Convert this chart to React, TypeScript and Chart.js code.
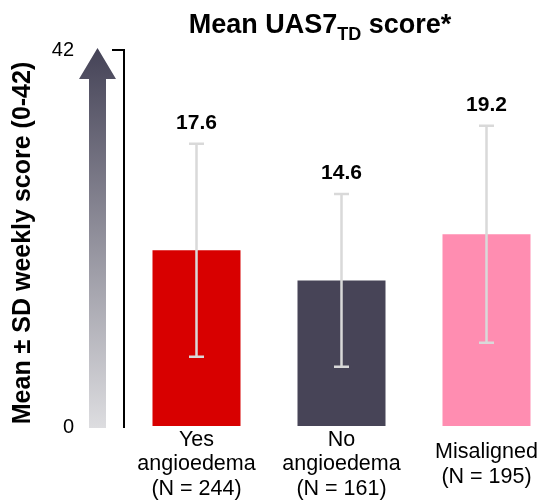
import React, { useEffect, useRef } from "react";
import { Chart, registerables } from "chart.js";

Chart.register(...registerables);

// ---- data ----
const CATEGORIES: string[][] = [
  ["Yes", "angioedema", "(N = 244)"],
  ["No", "angioedema", "(N = 161)"],
  ["Misaligned", "(N = 195)"],
];
const MEANS = [17.6, 14.6, 19.2];
const SDS = [10.6, 8.6, 10.8];
const VALUE_LABELS = ["17.6", "14.6", "19.2"];
const BAR_COLORS = ["#d80000", "#474457", "#ff8db1"];
// the reference's arrow axis is illustrative: its top is labelled 42,
// but bars are drawn on a scale whose top sits at about 37.55
const Y_MIN = 0;
const Y_MAX = 37.55;
const Y_TICK_LABELS = ["0", "42"];
const TITLE_MAIN = "Mean UAS7";
const TITLE_SUB = "TD";
const TITLE_END = " score*";
const Y_TITLE = "Mean \u00b1 SD weekly score (0-42)";

const FAMILY = "'Liberation Sans', Arial, Helvetica, sans-serif";

const decorPlugin = {
  id: "decor",
  beforeDatasetsDraw(chart: any) {
    const { ctx } = chart;
    const y = chart.scales.y;
    const top = y.getPixelForValue(Y_MAX) - 2;
    const bottom = y.getPixelForValue(Y_MIN) + 1;
    const cx = 97.5;
    const headHalf = 18.5;
    const shaftHalf = 8.5;
    const headH = 31;
    ctx.save();
    const g = ctx.createLinearGradient(0, top, 0, bottom);
    g.addColorStop(0, "#454357");
    g.addColorStop(1, "#dddde0");
    ctx.fillStyle = g;
    ctx.beginPath();
    ctx.moveTo(cx, top);
    ctx.lineTo(cx + headHalf, top + headH);
    ctx.lineTo(cx + shaftHalf, top + headH);
    ctx.lineTo(cx + shaftHalf, bottom);
    ctx.lineTo(cx - shaftHalf, bottom);
    ctx.lineTo(cx - shaftHalf, top + headH);
    ctx.lineTo(cx - headHalf, top + headH);
    ctx.closePath();
    ctx.fill();
    ctx.restore();
  },
  afterDatasetsDraw(chart: any) {
    const { ctx } = chart;
    const y = chart.scales.y;
    const meta = chart.getDatasetMeta(0);
    ctx.save();
    meta.data.forEach((bar: any, i: number) => {
      const x = bar.x;
      const hi = y.getPixelForValue(MEANS[i] + SDS[i]);
      const lo = y.getPixelForValue(MEANS[i] - SDS[i]);
      ctx.strokeStyle = "#d9d9d9";
      ctx.lineWidth = 2.5;
      ctx.beginPath();
      ctx.moveTo(x, hi);
      ctx.lineTo(x, lo);
      ctx.moveTo(x - 7.5, hi);
      ctx.lineTo(x + 7.5, hi);
      ctx.moveTo(x - 7.5, lo);
      ctx.lineTo(x + 7.5, lo);
      ctx.stroke();
      ctx.fillStyle = "#000";
      ctx.font = `bold 21px ${FAMILY}`;
      ctx.textAlign = "center";
      ctx.textBaseline = "middle";
      ctx.fillText(VALUE_LABELS[i], x, hi - 21);
    });
    ctx.restore();
  },
  afterDraw(chart: any) {
    const { ctx } = chart;
    ctx.save();
    // title with subscript
    const mainFont = `bold 27px ${FAMILY}`;
    const subFont = `bold 18px ${FAMILY}`;
    ctx.font = mainFont;
    const w1 = ctx.measureText(TITLE_MAIN).width;
    const w3 = ctx.measureText(TITLE_END).width;
    ctx.font = subFont;
    const w2 = ctx.measureText(TITLE_SUB).width;
    const total = w1 + w2 + w3;
    let x = 320 - total / 2;
    const base = 33;
    ctx.fillStyle = "#000";
    ctx.textAlign = "left";
    ctx.textBaseline = "alphabetic";
    ctx.font = mainFont;
    ctx.fillText(TITLE_MAIN, x, base);
    x += w1;
    ctx.font = subFont;
    ctx.fillText(TITLE_SUB, x, base + 7);
    x += w2;
    ctx.font = mainFont;
    ctx.fillText(TITLE_END, x, base);
    // y title
    ctx.translate(23, 243);
    ctx.rotate(-Math.PI / 2);
    ctx.font = `bold 25px ${FAMILY}`;
    ctx.textAlign = "center";
    ctx.textBaseline = "middle";
    ctx.fillText(Y_TITLE, 0, 0);
    ctx.restore();
  },
};

export default function App() {
  const ref = useRef<HTMLCanvasElement | null>(null);
  useEffect(() => {
    if (!ref.current) return;
    Chart.defaults.font.family = FAMILY;
    const chart = new Chart(ref.current, {
      type: "bar",
      data: {
        labels: CATEGORIES,
        datasets: [
          {
            data: MEANS,
            backgroundColor: BAR_COLORS,
            borderWidth: 0,
            categoryPercentage: 1,
            barPercentage: 0.607,
          },
        ],
      },
      options: {
        animation: false,
        responsive: false,
        devicePixelRatio: 1,
        layout: { padding: { top: 44, left: 0, right: 0, bottom: 0 } },
        plugins: {
          legend: { display: false },
          tooltip: { enabled: false },
          title: { display: false },
        },
        scales: {
          x: {
            grid: { display: false, drawTicks: false },
            border: { display: false },
            ticks: {
              color: "#000",
              font: { size: 21.5, family: FAMILY, lineHeight: 24.5 / 21.5 },
              padding: 13,
              maxRotation: 0,
              autoSkip: false,
              crossAlign: "center",
            },
            afterFit: (s: any) => {
              s.height = 77;
            },
          },
          y: {
            min: Y_MIN,
            max: Y_MAX,
            afterBuildTicks: (s: any) => {
              s.ticks = [{ value: Y_MIN }, { value: Y_MAX }];
            },
            ticks: {
              color: "#000",
              font: { size: 20, family: FAMILY },
              padding: 38,
              callback: (_v: any, i: number) => Y_TICK_LABELS[i],
            },
            grid: {
              drawOnChartArea: false,
              drawTicks: true,
              tickLength: 12,
              lineWidth: 2,
              color: (c: any) =>
                c.tick && c.tick.value === Y_MAX ? "#000" : "rgba(0,0,0,0)",
            },
            border: { display: true, color: "#000", width: 2 },
            afterFit: (s: any) => {
              s.width = 124;
            },
          },
        },
      },
      plugins: [decorPlugin],
    });
    return () => chart.destroy();
  }, []);
  return (
    <div
      style={{
        position: "fixed",
        left: 0,
        top: 0,
        width: 547,
        height: 504,
        overflow: "hidden",
        background: "#fff",
      }}
    >
      <canvas ref={ref} width={559} height={504} style={{ display: "block" }} />
    </div>
  );
}
